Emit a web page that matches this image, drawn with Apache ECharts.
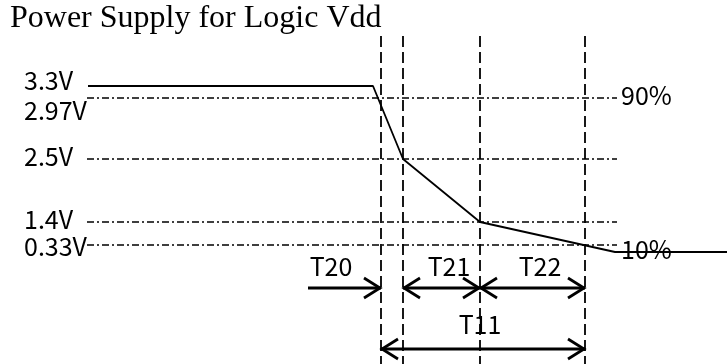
<!DOCTYPE html>
<html>
<head>
<meta charset="utf-8">
<script src="https://cdn.jsdelivr.net/npm/echarts@6/dist/echarts.min.js"></script>
<style>
  html, body { margin: 0; padding: 0; background: #fff; }
  #chart { width: 727px; height: 364px; }
</style>
</head>
<body>
<div id="chart"></div>
<script>
// diagram units: x = time, y = level (drawn top-down like the sketch)
const levelNames = ["3.3V", "2.97V", "2.5V", "1.4V", "0.33V"];
const levels = [86, 98, 159, 222, 245];
const refLevels = [98, 159, 222, 245]; // dash-dot reference lines
const refStart = 87;
const refEnd = 617;

// supply waveform
const waveT = [88, 373, 403, 480, 615, 727];
const waveV = [86, 86, 159, 222, 252, 252];

// vertical timing marks
const markT = [381, 403, 480, 585];
const markTop = 36;
const markBottom = 364;

// timing spans
const spanNames = ["T20", "T21", "T22", "T11"];
const spanFrom = [308, 403, 480, 381];
const spanTo = [381, 480, 585, 585];
const spanLevel = [288, 288, 288, 349];
const spanHeadFrom = [0, 1, 1, 1];
const spanHeadTo = [1, 1, 1, 1];
const spanLabelT = [331, 449, 540, 480];

// percent markers
const pctNames = ["90%", "10%"];
const pctLevel = [98, 252];
const pctT = 621;

const chart = echarts.init(document.getElementById("chart"));

const sansFont = '25px "Noto Sans CJK KR"';

function textItem(x, y, text, align) {
  return {
    type: "text",
    x: x,
    y: y - 3, // CJK font sits a little low when middle-aligned
    style: {
      text: text,
      fill: "#000",
      font: sansFont,
      align: align,
      verticalAlign: "middle",
    },
  };
}

const option = {
  animation: false,
  backgroundColor: "#fff",
  title: {
    text: "Power Supply for Logic Vdd",
    left: 10,
    top: 3,
    padding: 0,
    textStyle: {
      fontFamily: "Liberation Serif",
      fontSize: 32,
      fontWeight: "normal",
      color: "#000",
    },
  },
  grid: { left: 0, right: 0, top: 0, bottom: 0 },
  xAxis: { type: "value", min: 0, max: 727, show: false },
  yAxis: { type: "value", min: 0, max: 364, inverse: true, show: false },
  series: [
    {
      // dash-dot reference levels
      type: "custom",
      data: refLevels.map((v) => [refStart, v, refEnd]),
      encode: { x: [0, 2], y: 1 },
      renderItem: (params, api) => {
        const a = api.coord([api.value(0), api.value(1)]);
        const b = api.coord([api.value(2), api.value(1)]);
        return {
          type: "line",
          shape: { x1: a[0], y1: a[1], x2: b[0], y2: b[1] },
          style: { stroke: "#000", lineWidth: 1.3, lineDash: [7, 3, 2, 3] },
        };
      },
    },
    {
      // vertical dashed timing marks
      type: "custom",
      data: markT.map((t) => [t, markTop, markBottom]),
      encode: { x: 0, y: [1, 2] },
      renderItem: (params, api) => {
        const a = api.coord([api.value(0), api.value(1)]);
        const b = api.coord([api.value(0), api.value(2)]);
        return {
          type: "line",
          shape: { x1: a[0], y1: a[1], x2: b[0], y2: b[1] },
          style: { stroke: "#000", lineWidth: 1.8, lineDash: [11, 5] },
        };
      },
    },
    {
      name: "Vdd",
      type: "line",
      data: waveT.map((t, i) => [t, waveV[i]]),
      showSymbol: false,
      lineStyle: { color: "#000", width: 1.8 },
      z: 3,
    },
    {
      // timing arrows with open heads
      type: "custom",
      data: spanNames.map((n, i) => [spanFrom[i], spanLevel[i], spanTo[i], spanHeadFrom[i], spanHeadTo[i]]),
      encode: { x: [0, 2], y: 1 },
      z: 4,
      renderItem: (params, api) => {
        const a = api.coord([api.value(0), api.value(1)]);
        const b = api.coord([api.value(2), api.value(1)]);
        const st = { stroke: "#000", lineWidth: 2.8, fill: null };
        const kids = [
          { type: "line", shape: { x1: a[0], y1: a[1], x2: b[0], y2: b[1] }, style: st },
        ];
        const hx = 17, hy = 10;
        if (api.value(3)) {
          kids.push({
            type: "polyline",
            shape: { points: [[a[0] + hx, a[1] - hy], [a[0] + 1, a[1]], [a[0] + hx, a[1] + hy]] },
            style: st,
          });
        }
        if (api.value(4)) {
          kids.push({
            type: "polyline",
            shape: { points: [[b[0] - hx, b[1] - hy], [b[0] - 1, b[1]], [b[0] - hx, b[1] + hy]] },
            style: st,
          });
        }
        return { type: "group", children: kids };
      },
    },
    {
      // voltage level labels
      type: "custom",
      data: levels.map((v) => [24, v]),
      z: 5,
      renderItem: (params, api) => {
        const p = api.coord([api.value(0), api.value(1)]);
        const dy = params.dataIndex === 0 ? -3 : params.dataIndex === 1 ? 15 : params.dataIndex === 4 ? 4 : 0;
        return textItem(p[0], p[1] + dy, levelNames[params.dataIndex], "left");
      },
    },
    {
      // span labels
      type: "custom",
      data: spanNames.map((n, i) => [spanLabelT[i], spanLevel[i]]),
      z: 5,
      renderItem: (params, api) => {
        const p = api.coord([api.value(0), api.value(1)]);
        const dy = params.dataIndex === 3 ? -22 : -19;
        return textItem(p[0], p[1] + dy, spanNames[params.dataIndex], "center");
      },
    },
    {
      // percent labels
      type: "custom",
      data: pctNames.map((n, i) => [pctT, pctLevel[i]]),
      z: 5,
      renderItem: (params, api) => {
        const p = api.coord([api.value(0), api.value(1)]);
        return textItem(p[0], p[1], pctNames[params.dataIndex], "left");
      },
    },
  ],
};

chart.setOption(option);
</script>
</body>
</html>
